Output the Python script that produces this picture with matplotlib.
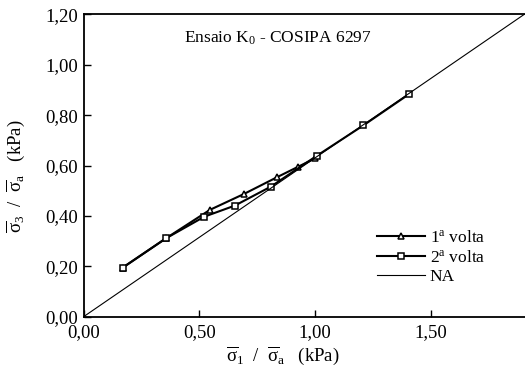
import matplotlib
matplotlib.use("Agg")
import matplotlib.pyplot as plt
from matplotlib.ticker import FuncFormatter

plt.rcParams['font.family'] = ['Liberation Serif', 'DejaVu Serif']
plt.rcParams['mathtext.fontset'] = 'custom'
plt.rcParams['mathtext.rm'] = 'Liberation Serif'
plt.rcParams['mathtext.it'] = 'Liberation Serif'
plt.rcParams['mathtext.bf'] = 'Liberation Serif'

# 1ª volta (triangles)
volta1_x = [0.17, 0.356, 0.546, 0.693, 0.837, 0.925, 1.00]
volta1_y = [0.195, 0.311, 0.424, 0.487, 0.554, 0.594, 0.628]
# 2ª volta (squares)
volta2_x = [0.169, 0.356, 0.522, 0.654, 0.809, 1.007, 1.209, 1.408]
volta2_y = [0.195, 0.311, 0.397, 0.441, 0.516, 0.638, 0.759, 0.884]
# NA line
na_x = [0.0, 1.905]
na_y = [0.0, 1.20]

xticks = [0.0, 0.5, 1.0, 1.5]
yticks = [0.0, 0.2, 0.4, 0.6, 0.8, 1.0, 1.2]

fig = plt.figure(figsize=(5.25, 3.72), dpi=100)
ax = fig.add_axes([83.6/525, (372-316.7)/372, (525.5-83.6)/525, (316.7-14.3)/372])

ax.plot(volta1_x, volta1_y, color='black', lw=1.5, marker='^', ms=4.5,
        mfc='white', mec='black', mew=1.1, label='1$^{\\mathrm{a}}$ volta')
ax.plot(volta2_x, volta2_y, color='black', lw=1.5, marker='s', ms=4.5,
        mfc='white', mec='black', mew=1.1, label='2$^{\\mathrm{a}}$ volta')
ax.plot(na_x, na_y, color='black', lw=0.8, label='NA')

ax.set_xlim(0, 1.91)
ax.set_ylim(0, 1.2)
ax.set_xticks(xticks)
ax.set_yticks(yticks)
fmt = FuncFormatter(lambda v, p: f"{v:.2f}".replace('.', ','))
ax.xaxis.set_major_formatter(fmt)
ax.yaxis.set_major_formatter(fmt)
ax.tick_params(direction='in', length=5, width=1, labelsize=13.5)
ax.tick_params(axis='x', pad=5)
ax.tick_params(axis='y', pad=4)
for s in ax.spines.values():
    s.set_linewidth(1.3)
ax.spines['right'].set_visible(False)

ax.set_xlabel(r'$\overline{\sigma}_1$  /  $\overline{\sigma}_\mathrm{a}$   (kPa)', fontsize=13.5)
ax.set_ylabel(r'$\overline{\sigma}_3$  /  $\overline{\sigma}_\mathrm{a}$   (kPa)', fontsize=13.5)
ax.xaxis.set_label_coords((283-83.6)/441.9, -(356-316.7)/302.4)
ax.yaxis.set_label_coords(-(83.6-16)/441.9, (316.7-176)/302.4)
ax.xaxis.label.set_va('center')
ax.yaxis.label.set_va('center')

ax.text((184-83.6)/441.9, (316.7-38)/302.4, r'Ensaio K$_0$ - COSIPA 6297',
        transform=ax.transAxes, fontsize=12.5, ha='left', va='center')

ax.legend(loc='upper left', bbox_to_anchor=((377-83.6)/441.9, (316.7-230)/302.4),
          frameon=False, fontsize=12.5, handlelength=2.75, handletextpad=0.3,
          labelspacing=0.2, borderaxespad=0, borderpad=0)

fig.savefig('out.png', dpi=100)
